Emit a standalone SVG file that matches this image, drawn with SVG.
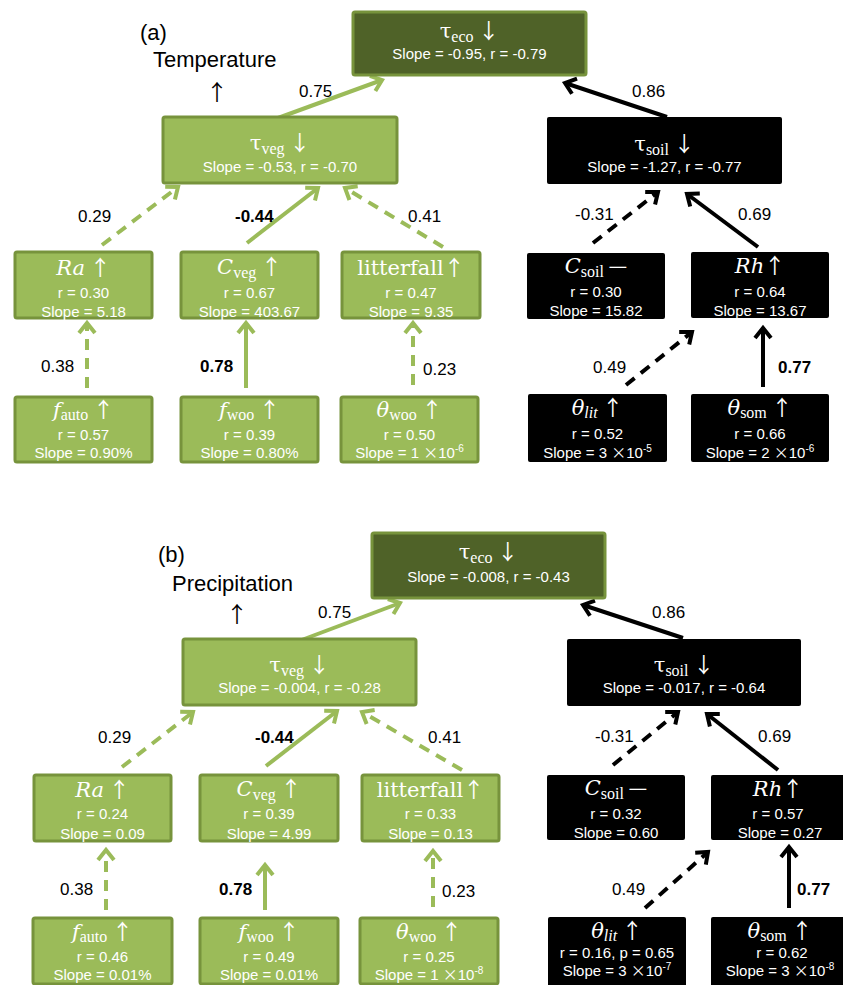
<svg xmlns="http://www.w3.org/2000/svg" width="843" height="985" viewBox="0 0 843 985">
<style>
.g{fill:#9bbb59;stroke:#77933c;stroke-width:3}
.d{fill:#4f6228;stroke:#77933c;stroke-width:3}
.k{fill:#000}
.m{font-family:"DejaVu Serif","Liberation Serif",serif;font-size:21px;fill:#fff}
.it{font-style:italic}
.sub{font-family:"Liberation Serif",serif;font-size:16px}
.ar{font-family:"Noto Sans CJK SC",sans-serif;font-size:21px}
.s{font-family:"Liberation Sans",Arial,sans-serif;font-size:15px;fill:#fff}
.x{font-family:"Noto Sans CJK SC",sans-serif;font-size:15px}
.sp{font-size:10px}
.lab{font-family:"Liberation Sans",Arial,sans-serif;font-size:17px;fill:#000}
.b{font-weight:bold}
.ttl{font-family:"Liberation Sans",Arial,sans-serif;font-size:22px;fill:#000}
.up{font-family:"Noto Sans CJK SC",sans-serif;font-size:22px;fill:#000}
.cg{stroke:#9bbb59;stroke-width:4;fill:none}
.ck{stroke:#000;stroke-width:4;fill:none}
.dash{stroke-dasharray:11 8}
</style>
<defs>
<marker id="hg" markerUnits="userSpaceOnUse" viewBox="-14 -12 18 24" refX="0" refY="0" markerWidth="18" markerHeight="24" orient="auto" overflow="visible">
<path d="M-10,-8 L0,0 L-10,8" fill="none" stroke="#9bbb59" stroke-width="4" stroke-dasharray="none"/>
</marker>
<marker id="hk" markerUnits="userSpaceOnUse" viewBox="-14 -12 18 24" refX="0" refY="0" markerWidth="18" markerHeight="24" orient="auto" overflow="visible">
<path d="M-10,-8 L0,0 L-10,8" fill="none" stroke="#000" stroke-width="4" stroke-dasharray="none"/>
</marker>
</defs>
<rect width="843" height="985" fill="#fff"/>

<!-- titles -->
<text class="ttl" x="140" y="40">(a)</text>
<text class="ttl" x="153" y="67">Temperature</text>
<text class="up" x="217" y="100" text-anchor="middle">↑</text>
<text class="ttl" x="158" y="562">(b)</text>
<text class="ttl" x="172" y="591">Precipitation</text>
<text class="up" x="237" y="622" text-anchor="middle">↑</text>

<!-- connectors -->
<g id="connectors">
<line class="cg" x1="278" y1="118" x2="382" y2="80" marker-end="url(#hg)"/>
<line class="ck" x1="667" y1="117" x2="565" y2="83" marker-end="url(#hk)"/>
<line class="cg dash" x1="102" y1="245" x2="178" y2="187" marker-end="url(#hg)"/>
<line class="cg" x1="247" y1="243" x2="318" y2="188" marker-end="url(#hg)"/>
<line class="cg dash" x1="443" y1="247" x2="345" y2="188" marker-end="url(#hg)"/>
<line class="cg dash" x1="87" y1="388" x2="87" y2="323" marker-end="url(#hg)"/>
<line class="cg" x1="246" y1="388" x2="246" y2="323" marker-end="url(#hg)"/>
<line class="cg dash" x1="413" y1="385" x2="413" y2="323" marker-end="url(#hg)"/>
<line class="ck dash" x1="593" y1="243" x2="658" y2="192" marker-end="url(#hk)"/>
<line class="ck" x1="758" y1="247" x2="687" y2="194" marker-end="url(#hk)"/>
<line class="ck dash" x1="626" y1="385" x2="692" y2="332" marker-end="url(#hk)"/>
<line class="ck" x1="763" y1="387" x2="763" y2="328" marker-end="url(#hk)"/>

<line class="cg" x1="299" y1="641" x2="400" y2="603" marker-end="url(#hg)"/>
<line class="ck" x1="683" y1="638" x2="583" y2="605" marker-end="url(#hk)"/>
<line class="cg dash" x1="122" y1="767" x2="193" y2="712" marker-end="url(#hg)"/>
<line class="cg" x1="266" y1="766" x2="337" y2="711" marker-end="url(#hg)"/>
<line class="cg dash" x1="462" y1="770" x2="362" y2="712" marker-end="url(#hg)"/>
<line class="cg dash" x1="106" y1="910" x2="106" y2="850" marker-end="url(#hg)"/>
<line class="cg" x1="265" y1="910" x2="265" y2="865" marker-end="url(#hg)"/>
<line class="cg dash" x1="433" y1="907" x2="433" y2="851" marker-end="url(#hg)"/>
<line class="ck dash" x1="613" y1="765" x2="678" y2="712" marker-end="url(#hk)"/>
<line class="ck" x1="778" y1="770" x2="707" y2="714" marker-end="url(#hk)"/>
<line class="ck dash" x1="645" y1="908" x2="708" y2="852" marker-end="url(#hk)"/>
<line class="ck" x1="789" y1="908" x2="789" y2="847" marker-end="url(#hk)"/>

<text class="lab" x="299" y="97">0.75</text>
<text class="lab" x="632" y="97">0.86</text>
<text class="lab" x="78" y="222">0.29</text>
<text class="lab b" x="235" y="222">-0.44</text>
<text class="lab" x="408" y="222">0.41</text>
<text class="lab" x="575" y="220">-0.31</text>
<text class="lab" x="738" y="220">0.69</text>
<text class="lab" x="41" y="372">0.38</text>
<text class="lab b" x="200" y="372">0.78</text>
<text class="lab" x="423" y="375">0.23</text>
<text class="lab" x="593" y="373">0.49</text>
<text class="lab b" x="778" y="373">0.77</text>

<text class="lab" x="318" y="618">0.75</text>
<text class="lab" x="652" y="618">0.86</text>
<text class="lab" x="98" y="743">0.29</text>
<text class="lab b" x="255" y="743">-0.44</text>
<text class="lab" x="428" y="743">0.41</text>
<text class="lab" x="595" y="742">-0.31</text>
<text class="lab" x="758" y="742">0.69</text>
<text class="lab" x="60" y="895">0.38</text>
<text class="lab b" x="219" y="895">0.78</text>
<text class="lab" x="442" y="897">0.23</text>
<text class="lab" x="612" y="895">0.49</text>
<text class="lab b" x="797" y="895">0.77</text>
</g>

<!-- panel a -->
<g id="a-teco">
<rect class="d" x="353" y="12" width="233" height="63" rx="2"/>
<text class="m" x="469.5" y="38" text-anchor="middle">τ<tspan class="sub" dy="4">eco</tspan><tspan class="ar" dy="-4"> ↓</tspan></text>
<text class="s" x="469.5" y="59" text-anchor="middle">Slope = -0.95, r = -0.79</text>
</g>
<g id="a-tveg">
<rect class="g" x="163" y="117" width="234" height="66" rx="2"/>
<text class="m" x="280" y="150" text-anchor="middle">τ<tspan class="sub" dy="4">veg</tspan><tspan class="ar" dy="-4"> ↓</tspan></text>
<text class="s" x="280" y="172" text-anchor="middle">Slope = -0.53, r = -0.70</text>
</g>
<g id="a-tsoil">
<rect class="k" x="547" y="117" width="235" height="67" rx="2"/>
<text class="m" x="664.5" y="151" text-anchor="middle">τ<tspan class="sub" dy="4">soil</tspan><tspan class="ar" dy="-4"> ↓</tspan></text>
<text class="s" x="664.5" y="172" text-anchor="middle">Slope = -1.27, r = -0.77</text>
</g>
<g id="a-ra">
<rect class="g" x="15" y="252" width="137" height="66" rx="2"/>
<text class="m" x="83.5" y="275" text-anchor="middle"><tspan class="it">Ra</tspan><tspan class="ar"> ↑</tspan></text>
<text class="s" x="83.5" y="298" text-anchor="middle">r = 0.30</text>
<text class="s" x="83.5" y="317" text-anchor="middle">Slope = 5.18</text>
</g>
<g id="a-cveg">
<rect class="g" x="181" y="252" width="137" height="66" rx="2"/>
<text class="m" x="249.5" y="274" text-anchor="middle"><tspan class="it">C</tspan><tspan class="sub" dy="4">veg</tspan><tspan class="ar" dy="-4"> ↑</tspan></text>
<text class="s" x="249.5" y="298" text-anchor="middle">r = 0.67</text>
<text class="s" x="249.5" y="317" text-anchor="middle">Slope = 403.67</text>
</g>
<g id="a-litterfall">
<rect class="g" x="342" y="252" width="138" height="66" rx="2"/>
<text class="m" x="411" y="275" text-anchor="middle">litterfall<tspan class="ar">↑</tspan></text>
<text class="s" x="411" y="298" text-anchor="middle">r = 0.47</text>
<text class="s" x="411" y="317" text-anchor="middle">Slope = 9.35</text>
</g>
<g id="a-fauto">
<rect class="g" x="15" y="397" width="137" height="65" rx="2"/>
<text class="m" x="83.5" y="417" text-anchor="middle"><tspan class="it">f</tspan><tspan class="sub" dy="3">auto</tspan><tspan class="ar" dy="-3"> ↑</tspan></text>
<text class="s" x="83.5" y="440" text-anchor="middle">r = 0.57</text>
<text class="s" x="83.5" y="458" text-anchor="middle">Slope = 0.90%</text>
</g>
<g id="a-fwoo">
<rect class="g" x="181" y="397" width="137" height="65" rx="2"/>
<text class="m" x="249.5" y="417" text-anchor="middle"><tspan class="it">f</tspan><tspan class="sub" dy="3">woo</tspan><tspan class="ar" dy="-3"> ↑</tspan></text>
<text class="s" x="249.5" y="440" text-anchor="middle">r = 0.39</text>
<text class="s" x="249.5" y="458" text-anchor="middle">Slope = 0.80%</text>
</g>
<g id="a-thwoo">
<rect class="g" x="341" y="397" width="137" height="65" rx="2"/>
<text class="m" x="409.5" y="417" text-anchor="middle"><tspan class="it">θ</tspan><tspan class="sub" dy="3">woo</tspan><tspan class="ar" dy="-3"> ↑</tspan></text>
<text class="s" x="409.5" y="440" text-anchor="middle">r = 0.50</text>
<text class="s" x="409.5" y="458" text-anchor="middle">Slope = 1 <tspan class="x">×</tspan>10<tspan class="sp" dy="-6">-6</tspan></text>
</g>
<g id="a-csoil">
<rect class="k" x="527" y="253" width="138" height="66" rx="2"/>
<text class="m" x="596" y="273" text-anchor="middle"><tspan class="it">C</tspan><tspan class="sub" dy="4">soil</tspan><tspan class="ar" dy="-4"> —</tspan></text>
<text class="s" x="596" y="297" text-anchor="middle">r = 0.30</text>
<text class="s" x="596" y="316" text-anchor="middle">Slope = 15.82</text>
</g>
<g id="a-rh">
<rect class="k" x="691" y="252" width="138" height="66" rx="2"/>
<text class="m" x="760" y="273" text-anchor="middle"><tspan class="it">Rh</tspan><tspan class="ar">↑</tspan></text>
<text class="s" x="760" y="297" text-anchor="middle">r = 0.64</text>
<text class="s" x="760" y="316" text-anchor="middle">Slope = 13.67</text>
</g>
<g id="a-thlit">
<rect class="k" x="528" y="394" width="139" height="68" rx="2"/>
<text class="m" x="597.5" y="415" text-anchor="middle"><tspan class="it">θ</tspan><tspan class="sub it" dy="3">lit</tspan><tspan class="ar" dy="-3"> ↑</tspan></text>
<text class="s" x="597.5" y="439" text-anchor="middle">r = 0.52</text>
<text class="s" x="597.5" y="458" text-anchor="middle">Slope = 3 <tspan class="x">×</tspan>10<tspan class="sp" dy="-6">-5</tspan></text>
</g>
<g id="a-thsom">
<rect class="k" x="691" y="394" width="138" height="68" rx="2"/>
<text class="m" x="760" y="415" text-anchor="middle"><tspan class="it">θ</tspan><tspan class="sub" dy="3">som</tspan><tspan class="ar" dy="-3"> ↑</tspan></text>
<text class="s" x="760" y="439" text-anchor="middle">r = 0.66</text>
<text class="s" x="760" y="458" text-anchor="middle">Slope = 2 <tspan class="x">×</tspan>10<tspan class="sp" dy="-6">-6</tspan></text>
</g>

<!-- panel b -->
<g id="b-teco">
<rect class="d" x="372" y="533" width="233" height="65" rx="2"/>
<text class="m" x="488.5" y="559" text-anchor="middle">τ<tspan class="sub" dy="4">eco</tspan><tspan class="ar" dy="-4"> ↓</tspan></text>
<text class="s" x="488.5" y="582" text-anchor="middle">Slope = -0.008, r = -0.43</text>
</g>
<g id="b-tveg">
<rect class="g" x="183" y="639" width="233" height="66" rx="2"/>
<text class="m" x="299.5" y="672" text-anchor="middle">τ<tspan class="sub" dy="4">veg</tspan><tspan class="ar" dy="-4"> ↓</tspan></text>
<text class="s" x="299.5" y="693" text-anchor="middle">Slope = -0.004, r = -0.28</text>
</g>
<g id="b-tsoil">
<rect class="k" x="567" y="639" width="234" height="67" rx="2"/>
<text class="m" x="684" y="672" text-anchor="middle">τ<tspan class="sub" dy="4">soil</tspan><tspan class="ar" dy="-4"> ↓</tspan></text>
<text class="s" x="684" y="693" text-anchor="middle">Slope = -0.017, r = -0.64</text>
</g>
<g id="b-ra">
<rect class="g" x="34" y="775" width="137" height="66" rx="2"/>
<text class="m" x="102.5" y="797" text-anchor="middle"><tspan class="it">Ra</tspan><tspan class="ar"> ↑</tspan></text>
<text class="s" x="102.5" y="819" text-anchor="middle">r = 0.24</text>
<text class="s" x="102.5" y="839" text-anchor="middle">Slope = 0.09</text>
</g>
<g id="b-cveg">
<rect class="g" x="200" y="775" width="138" height="66" rx="2"/>
<text class="m" x="269" y="796" text-anchor="middle"><tspan class="it">C</tspan><tspan class="sub" dy="4">veg</tspan><tspan class="ar" dy="-4"> ↑</tspan></text>
<text class="s" x="269" y="819" text-anchor="middle">r = 0.39</text>
<text class="s" x="269" y="839" text-anchor="middle">Slope = 4.99</text>
</g>
<g id="b-litterfall">
<rect class="g" x="362" y="775" width="137" height="66" rx="2"/>
<text class="m" x="430.5" y="797" text-anchor="middle">litterfall<tspan class="ar">↑</tspan></text>
<text class="s" x="430.5" y="819" text-anchor="middle">r = 0.33</text>
<text class="s" x="430.5" y="839" text-anchor="middle">Slope = 0.13</text>
</g>
<g id="b-fauto">
<rect class="g" x="33" y="918" width="139" height="66" rx="2"/>
<text class="m" x="102.5" y="939" text-anchor="middle"><tspan class="it">f</tspan><tspan class="sub" dy="3">auto</tspan><tspan class="ar" dy="-3"> ↑</tspan></text>
<text class="s" x="102.5" y="962" text-anchor="middle">r = 0.46</text>
<text class="s" x="102.5" y="980" text-anchor="middle">Slope = 0.01%</text>
</g>
<g id="b-fwoo">
<rect class="g" x="200" y="918" width="138" height="66" rx="2"/>
<text class="m" x="269" y="939" text-anchor="middle"><tspan class="it">f</tspan><tspan class="sub" dy="3">woo</tspan><tspan class="ar" dy="-3"> ↑</tspan></text>
<text class="s" x="269" y="962" text-anchor="middle">r = 0.49</text>
<text class="s" x="269" y="980" text-anchor="middle">Slope = 0.01%</text>
</g>
<g id="b-thwoo">
<rect class="g" x="360" y="918" width="138" height="66" rx="2"/>
<text class="m" x="429" y="939" text-anchor="middle"><tspan class="it">θ</tspan><tspan class="sub" dy="3">woo</tspan><tspan class="ar" dy="-3"> ↑</tspan></text>
<text class="s" x="429" y="962" text-anchor="middle">r = 0.25</text>
<text class="s" x="429" y="980" text-anchor="middle">Slope = 1 <tspan class="x">×</tspan>10<tspan class="sp" dy="-6">-8</tspan></text>
</g>
<g id="b-csoil">
<rect class="k" x="547" y="775" width="138" height="65" rx="2"/>
<text class="m" x="616" y="795" text-anchor="middle"><tspan class="it">C</tspan><tspan class="sub" dy="4">soil</tspan><tspan class="ar" dy="-4"> —</tspan></text>
<text class="s" x="616" y="819" text-anchor="middle">r = 0.32</text>
<text class="s" x="616" y="838" text-anchor="middle">Slope = 0.60</text>
</g>
<g id="b-rh">
<rect class="k" x="711" y="775" width="138" height="65" rx="2"/>
<text class="m" x="778" y="796" text-anchor="middle"><tspan class="it">Rh</tspan><tspan class="ar">↑</tspan></text>
<text class="s" x="778" y="819" text-anchor="middle">r = 0.57</text>
<text class="s" x="780" y="838" text-anchor="middle">Slope = 0.27</text>
</g>
<g id="b-thlit">
<rect class="k" x="548" y="917" width="138" height="70" rx="2"/>
<text class="m" x="617" y="938" text-anchor="middle"><tspan class="it">θ</tspan><tspan class="sub it" dy="3">lit</tspan><tspan class="ar" dy="-3"> ↑</tspan></text>
<text class="s" x="617" y="958" text-anchor="middle">r = 0.16, p = 0.65</text>
<text class="s" x="617" y="976" text-anchor="middle">Slope = 3 <tspan class="x">×</tspan>10<tspan class="sp" dy="-6">-7</tspan></text>
</g>
<g id="b-thsom">
<rect class="k" x="711" y="917" width="138" height="70" rx="2"/>
<text class="m" x="780" y="938" text-anchor="middle"><tspan class="it">θ</tspan><tspan class="sub" dy="3">som</tspan><tspan class="ar" dy="-3"> ↑</tspan></text>
<text class="s" x="782" y="958" text-anchor="middle">r = 0.62</text>
<text class="s" x="780" y="976" text-anchor="middle">Slope = 3 <tspan class="x">×</tspan>10<tspan class="sp" dy="-6">-8</tspan></text>
</g>
</svg>
